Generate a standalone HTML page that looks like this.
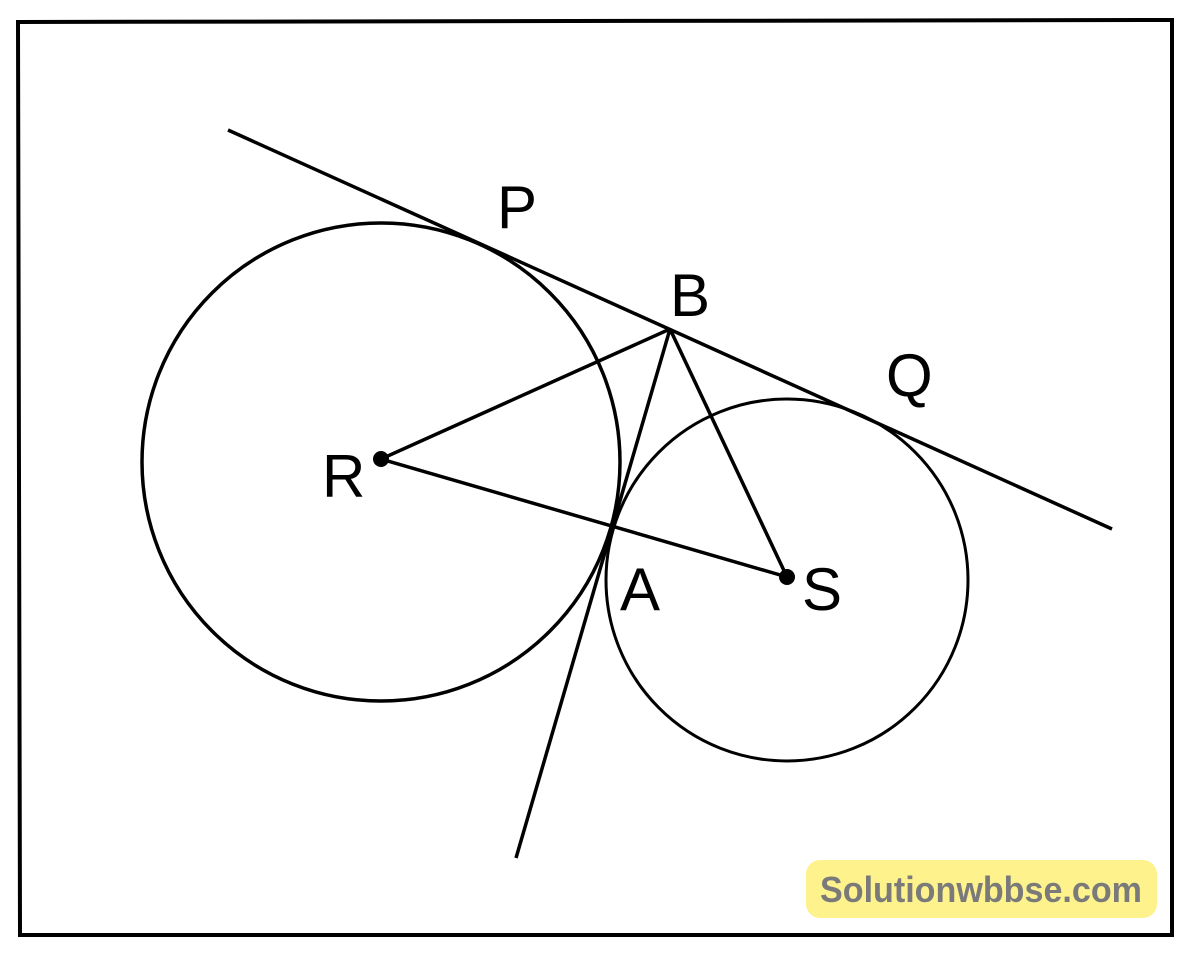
<!DOCTYPE html>
<html><head><style>html,body{margin:0;padding:0;background:#fff;}svg{display:block;}</style></head>
<body>
<svg width="1200" height="961" viewBox="0 0 1200 961" xmlns="http://www.w3.org/2000/svg">
<rect width="1200" height="961" fill="#fff"/>
<polygon points="18,22 1172,20 1172,935 20,935" fill="none" stroke="#000" stroke-width="4"/>
<circle cx="381" cy="462" r="239" fill="none" stroke="#000" stroke-width="3.5"/>
<circle cx="787" cy="580" r="181" fill="none" stroke="#000" stroke-width="3"/>
<line x1="228" y1="130" x2="1112" y2="529" stroke="#000" stroke-width="3.5"/>
<line x1="516" y1="858" x2="670" y2="329" stroke="#000" stroke-width="3.5"/>
<line x1="381" y1="459" x2="670" y2="329" stroke="#000" stroke-width="3.5"/>
<line x1="381" y1="459" x2="787" y2="577" stroke="#000" stroke-width="3.5"/>
<line x1="670" y1="329" x2="787" y2="577" stroke="#000" stroke-width="3.5"/>
<circle cx="381" cy="459" r="8" fill="#000"/>
<circle cx="787" cy="577" r="8" fill="#000"/>
<g font-family="Liberation Sans, sans-serif" font-size="60" fill="#000">
<text x="497" y="228">P</text>
<text x="670" y="316">B</text>
<text x="886" y="396">Q</text>
<text x="322" y="497">R</text>
<text x="620" y="610">A</text>
<text x="802" y="610">S</text>
</g>
<rect x="806" y="860" width="351" height="58" rx="14" fill="#fdf28c"/>
<text x="820" y="902" textLength="322" lengthAdjust="spacingAndGlyphs" font-family="Liberation Sans, sans-serif" font-weight="bold" font-size="36" fill="#7a7a7a">Solutionwbbse.com</text>
</svg>
</body></html>
